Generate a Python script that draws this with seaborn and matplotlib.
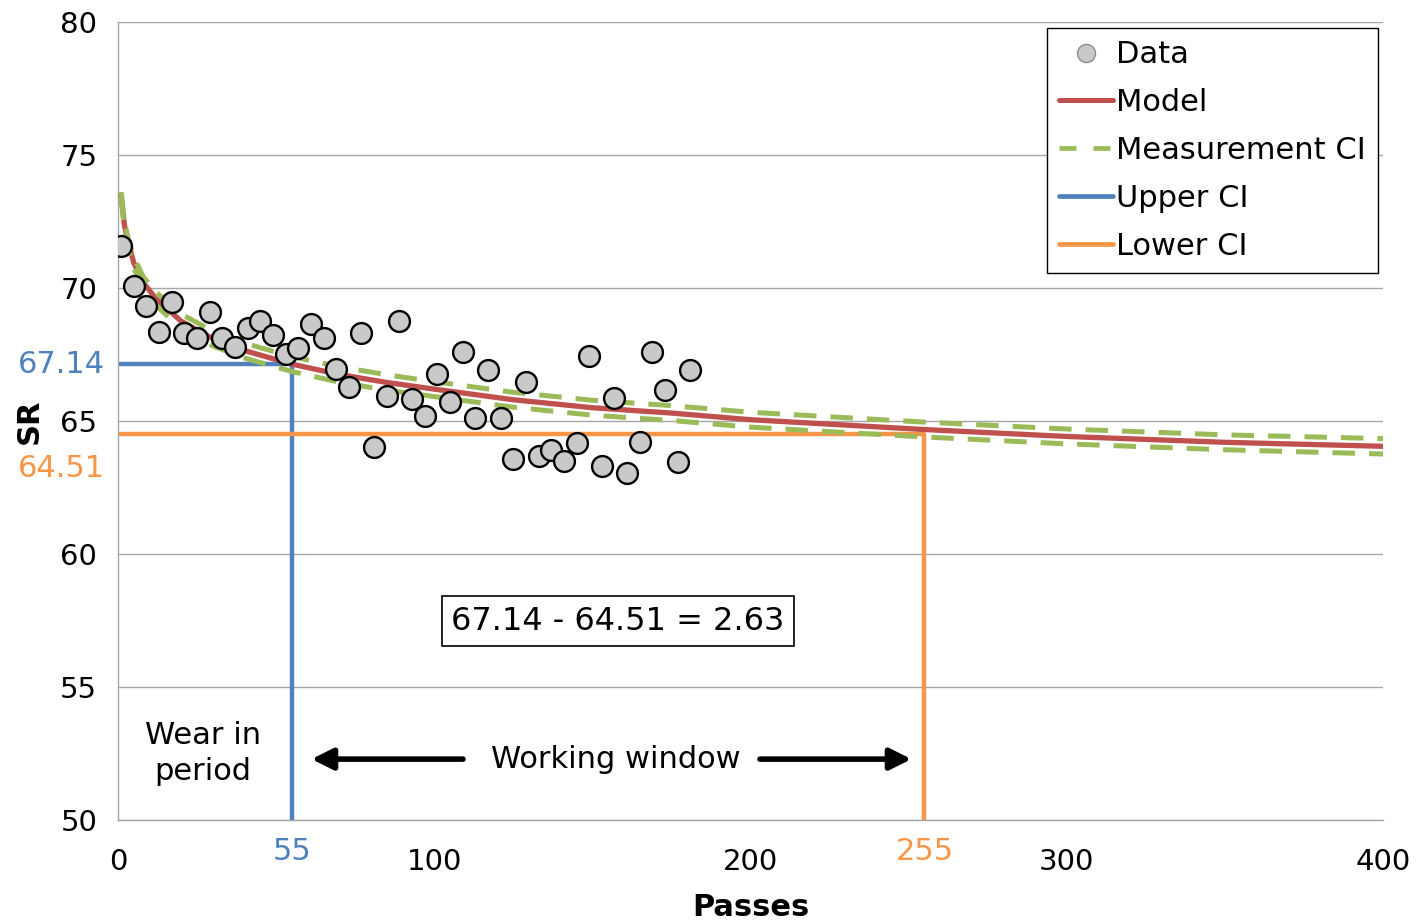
import matplotlib
matplotlib.use("Agg")
import matplotlib.pyplot as plt
import seaborn as sns
import pandas as pd
from matplotlib.lines import Line2D

# ---------------- data ----------------
passes = [1, 5, 9, 13, 17, 21, 25, 29, 33, 37, 41, 45, 49, 53, 57, 61, 65, 69, 73, 77,
          81, 85, 89, 93, 97, 101, 105, 109, 113, 117, 121, 125, 129, 133, 137, 141,
          145, 149, 153, 157, 161, 165, 169, 173, 177, 181]
sr = [71.58, 70.06, 69.34, 68.36, 69.46, 68.30, 68.11, 69.10, 68.11, 67.79, 68.48,
      68.77, 68.23, 67.52, 67.73, 68.65, 68.11, 66.96, 66.27, 68.30, 64.03, 65.94,
      68.76, 65.82, 65.19, 66.75, 65.73, 67.60, 65.10, 66.92, 65.10, 63.57, 66.48,
      63.68, 63.91, 63.50, 64.18, 67.44, 63.31, 65.87, 63.06, 64.22, 67.60, 66.16,
      63.47, 66.92]

model_x = [1, 2, 3, 5, 8, 12, 20, 30, 40, 55, 70, 85, 100, 125, 150, 175, 200, 255,
           300, 350, 400]
model_y = [73.50, 72.40, 71.80, 70.95, 70.20, 69.60, 68.75, 68.10, 67.65, 67.14,
           66.75, 66.45, 66.20, 65.80, 65.50, 65.30, 65.05, 64.68, 64.42, 64.20, 64.05]
ci_upper = [73.60, 72.55, 71.98, 71.15, 70.42, 69.85, 69.02, 68.38, 67.93, 67.42,
            67.04, 66.74, 66.48, 66.08, 65.78, 65.58, 65.33, 64.96, 64.70, 64.48, 64.34]
ci_lower = [73.40, 72.25, 71.62, 70.75, 69.98, 69.35, 68.48, 67.82, 67.37, 66.86,
            66.46, 66.16, 65.92, 65.52, 65.22, 65.02, 64.77, 64.40, 64.14, 63.92, 63.76]

upper_ci_value = 67.14
lower_ci_value = 64.51
upper_ci_pass = 55
lower_ci_pass = 255
upper_x = [0, upper_ci_pass, upper_ci_pass]
upper_y = [upper_ci_value, upper_ci_value, 50]
lower_x = [0, lower_ci_pass, lower_ci_pass]
lower_y = [lower_ci_value, lower_ci_value, 50]

x_ticks = [0, 100, 200, 300, 400]
y_ticks = [50, 55, 60, 65, 70, 75, 80]

# ---------------- style ----------------
sns.set_theme(style="white")
plt.rcParams['font.family'] = ['DejaVu Sans']
plt.rcParams['text.color'] = 'black'
plt.rcParams['axes.labelcolor'] = 'black'

RED = "#C0504D"
GREEN = "#9BBB59"
BLUE = "#4F81BD"
ORANGE = "#F79646"
GRID = "#A6A6A6"
FS = 22

fig = plt.figure(figsize=(14.18, 9.22), dpi=100)
ax = fig.add_axes([0.0832, 0.1106, 0.8921, 0.8655])

df_pts = pd.DataFrame({"Passes": passes, "SR": sr})
df_model = pd.DataFrame({"Passes": model_x, "SR": model_y,
                         "up": ci_upper, "lo": ci_lower})

sns.lineplot(x=upper_x, y=upper_y, sort=False, estimator=None, color=BLUE,
             lw=3.2, ax=ax, zorder=2)
sns.lineplot(x=lower_x, y=lower_y, sort=False, estimator=None, color=ORANGE,
             lw=3.2, ax=ax, zorder=2)
sns.lineplot(data=df_model, x="Passes", y="SR", color=RED, lw=3.8, ax=ax,
             estimator=None, zorder=3)
sns.lineplot(data=df_model, x="Passes", y="up", color=GREEN, lw=3.6, ax=ax,
             estimator=None, zorder=4, linestyle=(0, (4.5, 2.8)))
sns.lineplot(data=df_model, x="Passes", y="lo", color=GREEN, lw=3.6, ax=ax,
             estimator=None, zorder=4, linestyle=(0, (4.5, 2.8)))
sns.scatterplot(data=df_pts, x="Passes", y="SR", s=225, color="#C9C9C9",
                edgecolor="black", linewidth=1.7, ax=ax, zorder=5)

ax.set_xlim(0, 400)
ax.set_ylim(50, 80)
ax.set_xticks(x_ticks)
ax.set_yticks(y_ticks)
ax.tick_params(axis='both', labelsize=21, labelcolor='black', direction='out')
ax.tick_params(axis='y', length=7, width=1, color=GRID, pad=8)
ax.tick_params(axis='x', length=6, width=1, color=GRID, pad=14)
ax.yaxis.grid(True, color=GRID, lw=1)
ax.xaxis.grid(False)
for s in ['top', 'right']:
    ax.spines[s].set_visible(False)
for s in ['left', 'bottom']:
    ax.spines[s].set_color(GRID)
    ax.spines[s].set_linewidth(1)

ax.set_xlabel("Passes", fontsize=FS, fontweight='bold')
ax.set_ylabel("SR", fontsize=FS, fontweight='bold')
ax.xaxis.set_label_coords(0.5, -0.091)
ax.yaxis.set_label_coords(-0.059, 0.5)

# CI value labels
ax.text(-4.1, upper_ci_value, "67.14", color=BLUE, fontsize=FS, ha='right',
        va='center', clip_on=False)
ax.text(-4.1, 63.2, "64.51", color=ORANGE, fontsize=FS, ha='right',
        va='center', clip_on=False)
ax.text(upper_ci_pass, 48.83, "55", color=BLUE, fontsize=FS, ha='center',
        va='center', clip_on=False)
ax.text(lower_ci_pass, 48.83, "255", color=ORANGE, fontsize=FS, ha='center',
        va='center', clip_on=False)

# difference box
ax.text(158.1, 57.48, "67.14 - 64.51 = 2.63", fontsize=23, ha='center', va='center',
        bbox=dict(boxstyle='square,pad=0.3', fc='white', ec='black', lw=1.2),
        zorder=6)

# working window
ax.text(26.9, 52.5, "Wear in\nperiod", fontsize=FS, ha='center', va='center',
        linespacing=1.32)
ax.text(157.5, 52.29, "Working window", fontsize=FS, ha='center', va='center')
ax.annotate('', xy=(61.2, 52.29), xytext=(109.1, 52.29),
            arrowprops=dict(arrowstyle='-|>', lw=4, color='black',
                            mutation_scale=32, shrinkA=0, shrinkB=0))
ax.annotate('', xy=(250.9, 52.29), xytext=(203.0, 52.29),
            arrowprops=dict(arrowstyle='-|>', lw=4, color='black',
                            mutation_scale=32, shrinkA=0, shrinkB=0))

# legend
handles = [
    Line2D([], [], marker='o', ls='none', mfc='#C9C9C9', mec='#8C8C8C', ms=13, mew=1),
    Line2D([], [], color=RED, lw=3.6),
    Line2D([], [], color=GREEN, lw=3.4, ls=(0, (3.6, 3.6))),
    Line2D([], [], color=BLUE, lw=3.4),
    Line2D([], [], color=ORANGE, lw=3.4),
]
labels = ["Data", "Model", "Measurement CI", "Upper CI", "Lower CI"]
leg = ax.legend(handles, labels, loc='upper right', bbox_to_anchor=(0.996, 0.9925),
                borderaxespad=0, fontsize=FS, frameon=True, fancybox=False,
                handlelength=1.75, handletextpad=0.1, labelspacing=0.62,
                borderpad=0.4, framealpha=1)
leg.get_frame().set_edgecolor('black')
leg.get_frame().set_linewidth(1)

fig.savefig("out.png", dpi=100)
